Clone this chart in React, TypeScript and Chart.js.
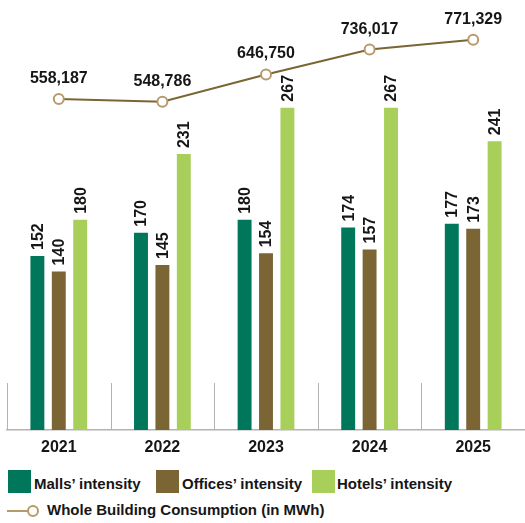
import React, { useEffect, useRef } from "react";
import { Chart, registerables } from "chart.js";

Chart.register(...registerables);

const years = ["2021", "2022", "2023", "2024", "2025"];
const mallsIntensity = [152, 170, 180, 174, 177];
const officesIntensity = [140, 145, 154, 157, 173];
const hotelsIntensity = [180, 231, 267, 267, 241];
const wholeBuildingMWh = [558187, 548786, 646750, 736017, 771329];

const seriesNames = ["Malls’ intensity", "Offices’ intensity", "Hotels’ intensity"];
const lineName = "Whole Building Consumption (in MWh)";

const COLORS = {
  malls: "#00765a",
  offices: "#7b6535",
  hotels: "#a8cf5a",
  line: "#7a6535",
  marker: "#b8996a",
  grid: "#b3b3b3",
  text: "#161616",
};

const FONT = "'Liberation Sans', Arial, sans-serif";

const dividerPlugin = {
  id: "dividers",
  beforeDatasetsDraw(chart: any) {
    const x = chart.scales.x;
    const { ctx, chartArea } = chart;
    const n = chart.data.labels.length;
    const w = (chartArea.right - chartArea.left) / n;
    ctx.save();
    ctx.strokeStyle = COLORS.grid;
    ctx.lineWidth = 1;
    for (let i = 0; i < n; i++) {
      const px = Math.round(x.getPixelForValue(i) - w / 2) + 0.5;
      ctx.beginPath();
      ctx.moveTo(px, chartArea.bottom - 47);
      ctx.lineTo(px, chartArea.bottom);
      ctx.stroke();
    }
    ctx.restore();
  },
};

const labelPlugin = {
  id: "valueLabels",
  afterDatasetsDraw(chart: any) {
    const { ctx } = chart;
    ctx.save();
    ctx.fillStyle = COLORS.text;
    chart.data.datasets.forEach((ds: any, di: number) => {
      const meta = chart.getDatasetMeta(di);
      meta.data.forEach((el: any, i: number) => {
        const v = ds.data[i];
        if (ds.type === "line") {
          ctx.font = `bold 16px ${FONT}`;
          ctx.textAlign = "center";
          ctx.textBaseline = "alphabetic";
          ctx.fillText(v.toLocaleString("en-US"), el.x, el.y - 16);
        } else {
          ctx.save();
          ctx.font = `bold 16px ${FONT}`;
          ctx.translate(el.x, el.y - 6);
          ctx.rotate(-Math.PI / 2);
          ctx.textAlign = "left";
          ctx.textBaseline = "middle";
          ctx.fillText(String(v), 0, 1);
          ctx.restore();
        }
      });
    });
    ctx.restore();
  },
};

function ChartView() {
  const ref = useRef<HTMLCanvasElement | null>(null);
  useEffect(() => {
    if (!ref.current) return;
    const chart = new Chart(ref.current, {
      type: "bar",
      data: {
        labels: years,
        datasets: [
          {
            type: "line",
            label: lineName,
            data: wholeBuildingMWh,
            yAxisID: "y1",
            borderColor: COLORS.line,
            borderWidth: 2,
            pointRadius: 5,
            pointBorderWidth: 2,
            pointBorderColor: COLORS.marker,
            pointBackgroundColor: "#ffffff",
            tension: 0,
            order: 0,
          } as any,
          {
            type: "bar",
            label: seriesNames[0],
            data: mallsIntensity,
            backgroundColor: COLORS.malls,
            yAxisID: "y",
            order: 1,
          },
          {
            type: "bar",
            label: seriesNames[1],
            data: officesIntensity,
            backgroundColor: COLORS.offices,
            yAxisID: "y",
            order: 1,
          },
          {
            type: "bar",
            label: seriesNames[2],
            data: hotelsIntensity,
            backgroundColor: COLORS.hotels,
            yAxisID: "y",
            order: 1,
          },
        ],
      },
      options: {
        responsive: true,
        maintainAspectRatio: false,
        animation: false,
        layout: { autoPadding: false, padding: { left: 7, right: 0, top: 0, bottom: 0 } } as any,
        datasets: {
          bar: { categoryPercentage: 0.62, barPercentage: 0.65 },
        } as any,
        plugins: {
          legend: { display: false },
          tooltip: { enabled: false },
        },
        scales: {
          x: {
            grid: { display: false, drawTicks: false },
            border: { display: true, color: COLORS.grid, width: 1.5 },
            ticks: {
              color: COLORS.text,
              font: { family: FONT, size: 16, weight: "bold" },
              padding: 8,
            },
            afterFit: (scale: any) => {
              scale.height = 30;
            },
          },
          y: { display: false, min: 17, max: 350.5 },
          y1: { display: false, min: -629100, max: 913800 },
        },
      },
      plugins: [dividerPlugin, labelPlugin],
    });
    return () => chart.destroy();
  }, []);
  return (
    <div style={{ position: "absolute", left: 0, top: 0, width: 525, height: 460 }}>
      <canvas ref={ref} />
    </div>
  );
}

const legendText: React.CSSProperties = {
  position: "absolute",
  fontFamily: FONT,
  fontWeight: "bold",
  fontSize: 15,
  color: COLORS.text,
  whiteSpace: "nowrap",
  lineHeight: "18px",
};

export default function App() {
  const boxes = [
    { color: COLORS.malls, left: 8, textLeft: 34, name: seriesNames[0] },
    { color: COLORS.offices, left: 156, textLeft: 182, name: seriesNames[1] },
    { color: COLORS.hotels, left: 312, textLeft: 337, name: seriesNames[2] },
  ];
  return (
    <div style={{ position: "absolute", left: 0, top: 0, width: 525, height: 523, background: "#fff" }}>
      <ChartView />
      {boxes.map((b) => (
        <React.Fragment key={b.name}>
          <div style={{ position: "absolute", left: b.left, top: 470, width: 23, height: 23, background: b.color }} />
          <div style={{ ...legendText, left: b.textLeft, top: 475 }}>{b.name}</div>
        </React.Fragment>
      ))}
      <svg style={{ position: "absolute", left: 0, top: 500 }} width={45} height={22}>
        <line x1={7} y1={11} x2={28} y2={11} stroke={COLORS.marker} strokeWidth={2} />
        <circle cx={33} cy={11} r={5} fill="#fff" stroke={COLORS.marker} strokeWidth={2} />
      </svg>
      <div style={{ ...legendText, left: 47, top: 501 }}>{lineName}</div>
    </div>
  );
}
